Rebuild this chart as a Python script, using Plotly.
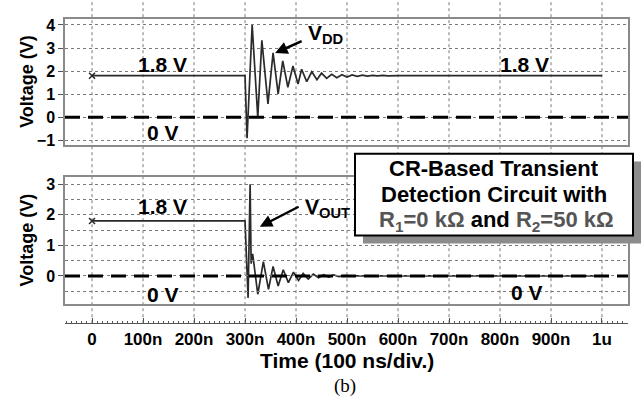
import plotly.graph_objects as go

W, H = 641, 407

# Time axis (ns)
x_ticks = [0, 100, 200, 300, 400, 500, 600, 700, 800, 900, 1000]
x_tick_text = ["0", "100n", "200n", "300n", "400n", "500n", "600n", "700n", "800n", "900n", "1u"]

# Supply node V_DD (V) during the ESD-like transient
vdd_t = [0, 300, 304, 314, 325, 333, 345, 355, 365, 374, 384, 394, 404, 411, 421, 431,
         441, 450, 460, 470, 480, 490, 500, 510, 520, 530, 540, 550, 560, 570, 580, 590, 600, 1000]
vdd_v = [1.8, 1.8, -0.91, 4.0, 0.0, 3.33, 0.58, 2.79, 1.01, 2.44, 1.3, 2.22, 1.44, 2.08, 1.54, 1.97,
         1.63, 1.91, 1.68, 1.86, 1.71, 1.84, 1.74, 1.83, 1.77, 1.82, 1.78, 1.81, 1.79, 1.81, 1.79, 1.8, 1.8, 1.8]

# Detector output V_OUT (V)
vout_t = [0, 300, 306, 310, 312, 315, 325, 336, 346, 355, 365, 375, 385, 395, 405, 414, 424,
          434, 444, 454, 464, 474, 484, 494, 504, 1000]
vout_v = [1.8, 1.8, -0.72, 3.0, 0.4, 0.72, -0.6, 0.47, -0.44, 0.31, -0.33, 0.2, -0.22, 0.12, -0.15,
          0.08, -0.1, 0.06, -0.06, 0.04, -0.04, 0.03, -0.02, 0.01, 0.0, 0.0]

top_ticks = [-1, 0, 1, 2, 3, 4]
bot_ticks = [0, 1, 2, 3]
bot_minor = [-0.5, 0.5, 1.5, 2.5]

FONT = "Liberation Sans, Arial, sans-serif"
TRACE = "#2a2a2a"
BOX = "#8a8a8a"
GRID = "#7a7a7a"


def px(x):
    return x / W


def py(y):
    return 1 - y / H


XDOM = [px(65), px(628)]
XRNG = [-53, 1051]

fig = go.Figure()
for t, v, ya in [(vdd_t, vdd_v, "y"), (vout_t, vout_v, "y2")]:
    xa = "x" if ya == "y" else "x2"
    fig.add_trace(go.Scatter(x=t, y=v, mode="lines", xaxis=xa, yaxis=ya,
                             line=dict(color=TRACE, width=1.7), hoverinfo="skip", showlegend=False))
    fig.add_trace(go.Scatter(x=t[:1], y=v[:1], mode="markers", xaxis=xa, yaxis=ya,
                             marker=dict(symbol="x-thin", size=6, line=dict(color=TRACE, width=1.5)),
                             hoverinfo="skip", showlegend=False))
# carrier for the shared time axis
fig.add_trace(go.Scatter(x=x_ticks, y=[None] * len(x_ticks), xaxis="x3", yaxis="y2",
                         mode="lines", hoverinfo="skip", showlegend=False))

tickfont = dict(family=FONT, size=16, color="black", weight="bold")
box_x = dict(domain=XDOM, range=XRNG, showline=True, mirror=True, linecolor=BOX, linewidth=1.5,
             showgrid=False, showticklabels=False, ticks="", zeroline=False)

fig.update_layout(
    width=W, height=H, margin=dict(l=0, r=0, t=0, b=0),
    paper_bgcolor="white", plot_bgcolor="rgba(0,0,0,0)",
    xaxis=dict(box_x, anchor="y"),
    xaxis2=dict(box_x, anchor="y2"),
    xaxis3=dict(domain=XDOM, range=XRNG, anchor="free", position=py(326), showline=True,
                linecolor="#555", linewidth=1, ticks="inside", ticklen=5, tickcolor="#555",
                tickmode="array", tickvals=x_ticks, ticktext=x_tick_text,
                tickfont=dict(family=FONT, size=17, color="black", weight="bold"),
                minor=dict(tickmode="linear", tick0=0, dtick=10, ticks="inside", ticklen=2.5,
                           tickcolor="#555"),
                showgrid=False, zeroline=False),
    yaxis=dict(domain=[py(145), py(17)], range=[-1.2, 4.27], anchor="x", showline=True, mirror=True,
               linecolor=BOX, linewidth=1.5, tickmode="array", tickvals=top_ticks, ticks="outside",
               ticklen=5, tickcolor="#555", tickfont=tickfont, showgrid=True, gridcolor=GRID,
               griddash="dot", gridwidth=1, zeroline=False),
    yaxis2=dict(domain=[py(307), py(178)], range=[-0.935, 3.226], anchor="x2", showline=True,
                mirror=True, linecolor=BOX, linewidth=1.5, tickmode="array", tickvals=bot_ticks,
                ticks="outside", ticklen=5, tickcolor="#555", tickfont=tickfont, showgrid=True,
                gridcolor=GRID, griddash="dot", gridwidth=1, zeroline=False,
                minor=dict(tickmode="array", tickvals=bot_minor, showgrid=True, gridcolor=GRID,
                           griddash="dot", gridwidth=1, ticks="")),
)

shapes = []
# time-division grid running through both panels down to the time axis
for xv in x_ticks:
    shapes.append(dict(type="line", xref="x3", yref="paper", x0=xv, x1=xv, y0=py(326), y1=1,
                       line=dict(color=GRID, width=1, dash="dot"), layer="below"))
# 0 V reference lines
for xr, yr in [("x domain", "y"), ("x2 domain", "y2")]:
    shapes.append(dict(type="line", xref=xr, yref=yr, x0=0, x1=1, y0=0, y1=0,
                       line=dict(color="black", width=3, dash="15px,8px")))
# caption box with drop shadow
shapes.append(dict(type="rect", xref="paper", yref="paper", x0=px(363), x1=px(641), y0=py(245),
                   y1=py(162), fillcolor="#8c8c8c", line=dict(width=0), layer="above"))
shapes.append(dict(type="rect", xref="paper", yref="paper", x0=px(355), x1=px(633), y0=py(237),
                   y1=py(154), fillcolor="white", line=dict(color="black", width=2), layer="above"))
fig.update_layout(shapes=shapes)

big = dict(family=FONT, size=21, color="black", weight="bold")
cap = dict(family=FONT, size=22, color="black", weight="bold")
C = dict(xanchor="center", yanchor="middle", showarrow=False)
ann = []
# level labels
ann += [
    dict(C, x=139, y=2.3, xref="x", yref="y", text="1.8 V", font=big),
    dict(C, x=139, y=-0.68, xref="x", yref="y", text="0 V", font=big),
    dict(C, x=849, y=2.3, xref="x", yref="y", text="1.8 V", font=big),
    dict(C, x=139, y=2.27, xref="x2", yref="y2", text="1.8 V", font=big),
    dict(C, x=139, y=-0.6, xref="x2", yref="y2", text="0 V", font=big),
    dict(C, x=853, y=-0.55, xref="x2", yref="y2", text="0 V", font=big),
]
# node labels with pointers
ann += [
    dict(x=359, y=2.78, xref="x", yref="y", ax=414, ay=3.33, axref="x", ayref="y", text="",
         showarrow=True, arrowhead=2, arrowsize=1, arrowwidth=2.5, arrowcolor="black"),
    dict(x=420, y=3.63, xref="x", yref="y", xanchor="left", yanchor="middle", text="V<sub>DD</sub>",
         showarrow=False, font=dict(family=FONT, size=21, color="black", weight="bold")),
    dict(x=329, y=1.61, xref="x2", yref="y2", ax=408, ay=2.29, axref="x2", ayref="y2", text="",
         showarrow=True, arrowhead=2, arrowsize=1, arrowwidth=2.5, arrowcolor="black"),
    dict(x=414, y=2.23, xref="x2", yref="y2", xanchor="left", yanchor="middle", text="V<sub>OUT</sub>",
         showarrow=False, font=dict(family=FONT, size=21, color="black", weight="bold")),
]
# caption text
gray = "#555555"
ann += [
    dict(C, x=px(494), y=py(169), xref="paper", yref="paper", text="CR-Based Transient", font=cap),
    dict(C, x=px(494), y=py(195), xref="paper", yref="paper", text="Detection Circuit with",
         font=cap),
    dict(C, x=px(496), y=py(222), xref="paper", yref="paper",
         text=f"<span style='color:{gray}'>R<sub>1</sub>=0 kΩ</span> and "
              f"<span style='color:{gray}'>R<sub>2</sub>=50 kΩ</span>",
         font=cap),
]
# axis titles and panel tag
ann += [
    dict(C, x=px(27), y=py(81), xref="paper", yref="paper", text="Voltage (V)", textangle=-90,
         font=dict(family=FONT, size=18, color="black", weight="bold")),
    dict(C, x=px(27), y=py(242), xref="paper", yref="paper", text="Voltage (V)", textangle=-90,
         font=dict(family=FONT, size=18, color="black", weight="bold")),
    dict(C, x=px(347), y=py(364), xref="paper", yref="paper", text="Time (100 ns/div.)",
         font=dict(family=FONT, size=21, color="black", weight="bold")),
    dict(C, x=px(345), y=py(390), xref="paper", yref="paper", text="(b)",
         font=dict(family="Liberation Serif, Times New Roman, serif", size=19, color="black")),
]
fig.update_layout(annotations=ann)

fig.write_html("out.html")
